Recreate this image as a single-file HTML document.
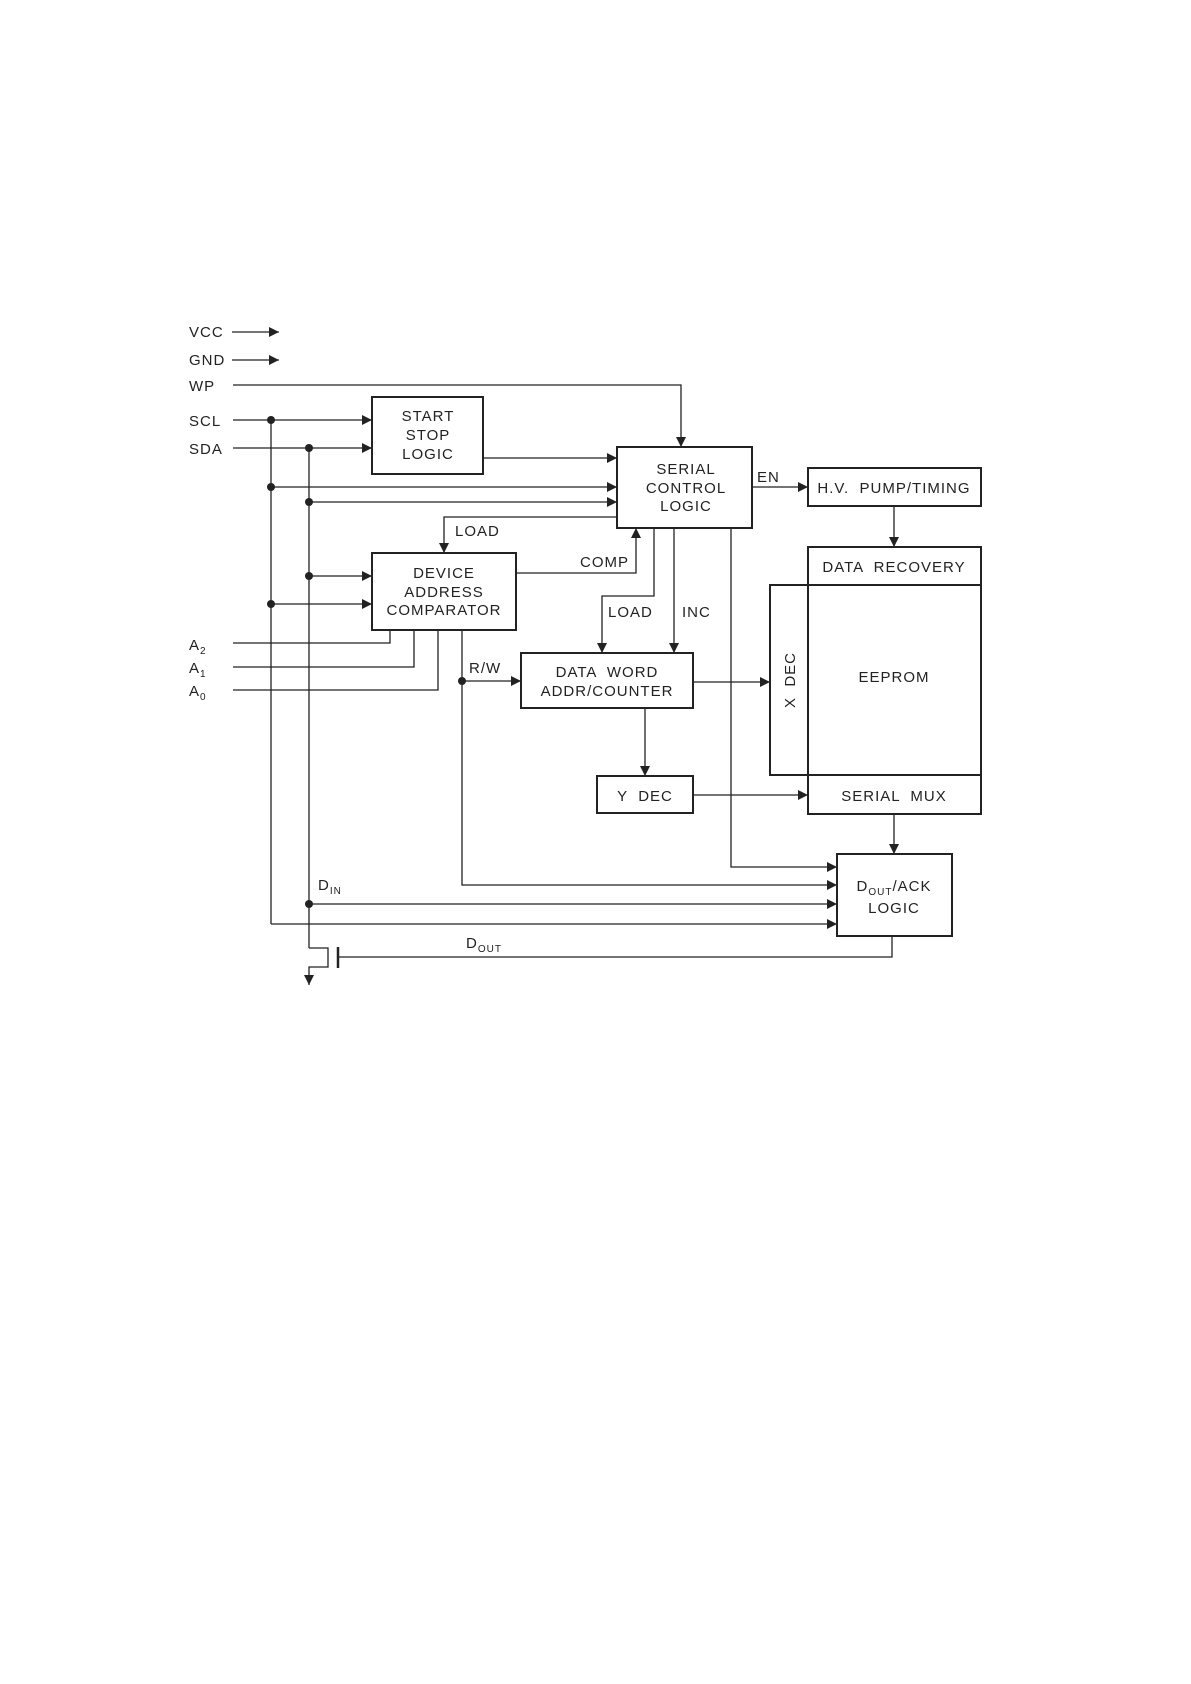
<!DOCTYPE html>
<html><head><meta charset="utf-8"><style>
html,body{margin:0;padding:0;background:#fff;}
svg{display:block;}
text{font-family:"Liberation Sans",sans-serif;font-size:15px;fill:#222;letter-spacing:1px;white-space:pre;}
.b{fill:none;stroke:#222;stroke-width:2;}
.l{fill:none;stroke:#222;stroke-width:1.3;}
</style></head><body>
<svg width="1191" height="1684" viewBox="0 0 1191 1684" xmlns="http://www.w3.org/2000/svg" xml:space="preserve">
<defs>
<marker id="a" viewBox="0 0 10 10" refX="10" refY="5" markerWidth="10" markerHeight="10" markerUnits="userSpaceOnUse" orient="auto">
<path d="M0,0 L10,5 L0,10 z" fill="#222"/></marker>
</defs>
<text x="189" y="337">VCC</text>
<text x="189" y="365">GND</text>
<text x="189" y="391">WP</text>
<text x="189" y="426">SCL</text>
<text x="189" y="454">SDA</text>
<text x="189" y="650">A<tspan font-size="10" dy="4">2</tspan></text>
<text x="189" y="673">A<tspan font-size="10" dy="4">1</tspan></text>
<text x="189" y="696">A<tspan font-size="10" dy="4">0</tspan></text>
<g class="l">
<line x1="232" y1="332" x2="279" y2="332" marker-end="url(#a)"/>
<line x1="232" y1="360" x2="279" y2="360" marker-end="url(#a)"/>
<polyline points="233,385 681,385 681,447" marker-end="url(#a)"/>
<line x1="233" y1="420" x2="372" y2="420" marker-end="url(#a)"/>
<line x1="233" y1="448" x2="372" y2="448" marker-end="url(#a)"/>
<line x1="271" y1="420" x2="271" y2="924"/>
<line x1="309" y1="448" x2="309" y2="948"/>
<line x1="483" y1="458" x2="617" y2="458" marker-end="url(#a)"/>
<line x1="271" y1="487" x2="617" y2="487" marker-end="url(#a)"/>
<line x1="309" y1="502" x2="617" y2="502" marker-end="url(#a)"/>
<polyline points="617,517 444,517 444,553" marker-end="url(#a)"/>
<line x1="309" y1="576" x2="372" y2="576" marker-end="url(#a)"/>
<line x1="271" y1="604" x2="372" y2="604" marker-end="url(#a)"/>
<polyline points="516,573 636,573 636,528" marker-end="url(#a)"/>
<polyline points="233,643 390,643 390,630"/>
<polyline points="233,667 414,667 414,630"/>
<polyline points="233,690 438,690 438,630"/>
<polyline points="462,630 462,885 837,885" marker-end="url(#a)"/>
<line x1="462" y1="681" x2="521" y2="681" marker-end="url(#a)"/>
<polyline points="654,528 654,596 602,596 602,653" marker-end="url(#a)"/>
<line x1="674" y1="528" x2="674" y2="653" marker-end="url(#a)"/>
<line x1="752" y1="487" x2="808" y2="487" marker-end="url(#a)"/>
<line x1="894" y1="506" x2="894" y2="547" marker-end="url(#a)"/>
<line x1="693" y1="682" x2="770" y2="682" marker-end="url(#a)"/>
<line x1="645" y1="708" x2="645" y2="776" marker-end="url(#a)"/>
<line x1="693" y1="795" x2="808" y2="795" marker-end="url(#a)"/>
<line x1="894" y1="814" x2="894" y2="854" marker-end="url(#a)"/>
<polyline points="731,528 731,867 837,867" marker-end="url(#a)"/>
<line x1="309" y1="904" x2="837" y2="904" marker-end="url(#a)"/>
<line x1="271" y1="924" x2="837" y2="924" marker-end="url(#a)"/>
<polyline points="892,936 892,957 338,957"/>
<polyline points="309,948 328,948 328,967 309,967 309,985" marker-end="url(#a)"/>
</g>
<line x1="338" y1="947" x2="338" y2="968" stroke="#222" stroke-width="2.5"/>
<g fill="#222">
<circle cx="271" cy="420" r="4"/><circle cx="309" cy="448" r="4"/>
<circle cx="271" cy="487" r="4"/><circle cx="309" cy="502" r="4"/>
<circle cx="309" cy="576" r="4"/><circle cx="271" cy="604" r="4"/>
<circle cx="462" cy="681" r="4"/><circle cx="309" cy="904" r="4"/>
</g>
<g class="b">
<rect x="372" y="397" width="111" height="77"/>
<rect x="617" y="447" width="135" height="81"/>
<rect x="372" y="553" width="144" height="77"/>
<rect x="521" y="653" width="172" height="55"/>
<rect x="597" y="776" width="96" height="37"/>
<rect x="808" y="468" width="173" height="38"/>
<rect x="808" y="547" width="173" height="38"/>
<rect x="808" y="585" width="173" height="190"/>
<rect x="770" y="585" width="38" height="190"/>
<rect x="808" y="775" width="173" height="39"/>
<rect x="837" y="854" width="115" height="82"/>
</g>
<g text-anchor="middle">
<text x="428" y="421">START</text><text x="428" y="440">STOP</text><text x="428" y="459">LOGIC</text>
<text x="686" y="474">SERIAL</text><text x="686" y="493">CONTROL</text><text x="686" y="511">LOGIC</text>
<text x="444" y="578">DEVICE</text><text x="444" y="597">ADDRESS</text><text x="444" y="615">COMPARATOR</text>
<text x="607" y="677">DATA  WORD</text><text x="607" y="696">ADDR/COUNTER</text>
<text x="645" y="801">Y  DEC</text>
<text x="894" y="493">H.V.  PUMP/TIMING</text>
<text x="894" y="572">DATA  RECOVERY</text>
<text x="894" y="682">EEPROM</text>
<text x="894" y="801">SERIAL  MUX</text>
<text x="894" y="891">D<tspan font-size="10" dy="4">OUT</tspan><tspan dy="-4">/ACK</tspan></text>
<text x="894" y="913">LOGIC</text>
<text transform="translate(795,680) rotate(-90)">X  DEC</text>
</g>
<text x="455" y="536">LOAD</text>
<text x="580" y="567">COMP</text>
<text x="608" y="617">LOAD</text>
<text x="682" y="617">INC</text>
<text x="757" y="482">EN</text>
<text x="469" y="673">R/W</text>
<text x="318" y="890">D<tspan font-size="10" dy="4">IN</tspan></text>
<text x="466" y="948">D<tspan font-size="10" dy="4">OUT</tspan></text>
</svg>
</body></html>
